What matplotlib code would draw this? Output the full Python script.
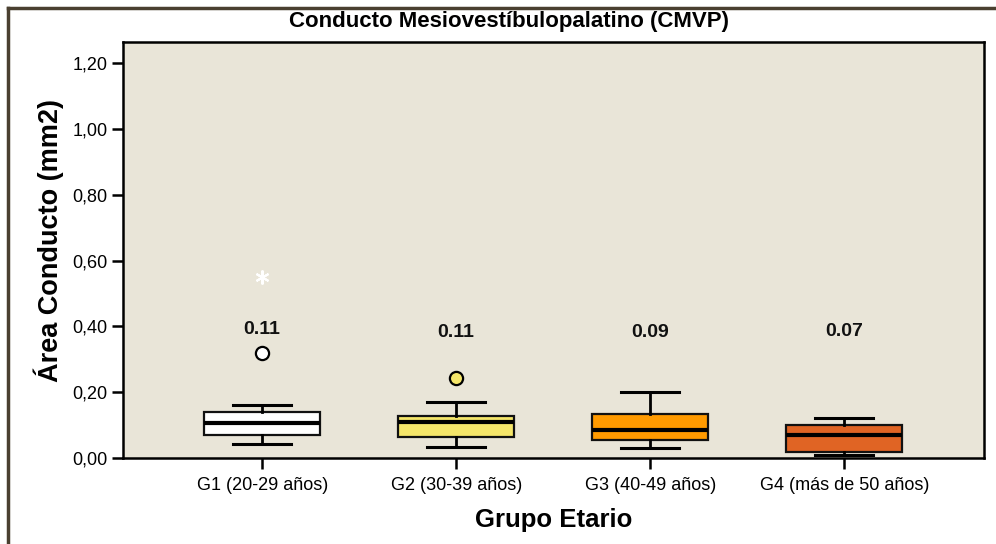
import matplotlib.pyplot as plt
from matplotlib.lines import Line2D

# Box statistics (mm2)
groups = ["G1 (20-29 años)", "G2 (30-39 años)", "G3 (40-49 años)", "G4 (más de 50 años)"]
medians = [0.107, 0.110, 0.086, 0.070]
q1 = [0.070, 0.063, 0.054, 0.019]
q3 = [0.141, 0.128, 0.135, 0.100]
whisk_lo = [0.042, 0.033, 0.029, 0.010]
whisk_hi = [0.161, 0.169, 0.201, 0.121]
outliers = [[0.320], [0.242], [], []]
extremes = [[0.549], [], [], []]
mean_labels = ["0.11", "0.11", "0.09", "0.07"]
label_y = [0.389, 0.380, 0.380, 0.385]

colors = ["#FFFFFF", "#F5E66A", "#FF9A00", "#E06424"]
bg = "#E9E5D8"

plt.rcParams['font.family'] = ['Liberation Sans', 'DejaVu Sans']

fig = plt.figure(figsize=(9.96, 5.44), dpi=100)
ax = fig.add_axes([123/996, 1 - 458/544, (984-123)/996, (458-42)/544])
ax.set_facecolor(bg)

stats = []
for i in range(len(groups)):
    stats.append({
        "med": medians[i], "q1": q1[i], "q3": q3[i],
        "whislo": whisk_lo[i], "whishi": whisk_hi[i],
        "fliers": [],
    })

positions = [1, 2, 3, 4]
bp = ax.bxp(stats, positions=positions, widths=0.6, patch_artist=True,
            showfliers=False,
            boxprops=dict(linewidth=1.6, edgecolor="#111111"),
            medianprops=dict(color="black", linewidth=3),
            whiskerprops=dict(color="black", linewidth=2),
            capprops=dict(color="black", linewidth=2.2),
            capwidths=0.3)
for patch, c in zip(bp["boxes"], colors):
    patch.set_facecolor(c)

# outliers (circles) and extremes (asterisks)
for pos, vals, c in zip(positions, outliers, colors):
    if vals:
        ax.plot([pos] * len(vals), vals, "o", ms=9.5, mfc=c, mec="black", mew=1.6)
for pos, vals in zip(positions, extremes):
    if vals:
        ax.plot([pos] * len(vals), vals, marker=(6, 2, 0), ms=10,
                color="white", mew=1.5, linestyle="none")

for pos, lab, y in zip(positions, mean_labels, label_y):
    ax.text(pos, y, lab, ha="center", va="center", fontsize=14,
            fontweight="bold", color="#111111")

ax.set_xlim(0.283, 4.72)
ax.set_ylim(0, 1.264)
ax.set_yticks([0, 0.2, 0.4, 0.6, 0.8, 1.0, 1.2])
ax.set_yticklabels(["0,00", "0,20", "0,40", "0,60", "0,80", "1,00", "1,20"])
ax.set_xticks(positions)
ax.set_xticklabels(groups)
ax.tick_params(axis="both", direction="out", length=8, width=1.8,
               labelsize=13, colors="black")
ax.tick_params(axis="x", pad=6)
ax.tick_params(axis="y", pad=3)
for s in ax.spines.values():
    s.set_linewidth(1.8)
    s.set_color("black")

ax.set_ylabel("Área Conducto (mm2)", fontsize=19.5, fontweight="bold")
ax.yaxis.set_label_coords(-0.068, 0.524)
ax.set_xlabel("Grupo Etario", fontsize=18.5, fontweight="bold", labelpad=10)
fig.text(509/996, 1 - 22/544, "Conducto Mesiovestíbulopalatino (CMVP)",
         ha="center", va="center", fontsize=16, fontweight="bold")

# outer frame lines (top and left)
frame_col = "#4A4030"
fig.add_artist(Line2D([8/996, 1], [1 - 8/544, 1 - 8/544], color=frame_col, lw=2.5))
fig.add_artist(Line2D([8/996, 8/996], [0, 1 - 8/544], color=frame_col, lw=2.5))

fig.savefig("out.png", dpi=100)
